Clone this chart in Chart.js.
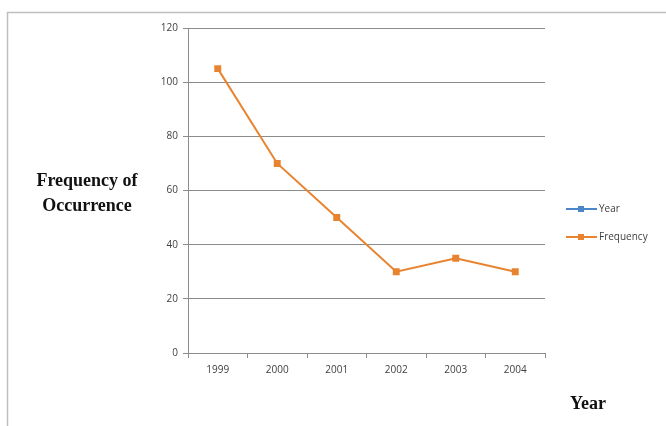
<!DOCTYPE html>
<html>
<head>
<meta charset="utf-8">
<script src="https://cdn.jsdelivr.net/npm/chart.js@4.4.0/dist/chart.umd.min.js"></script>
<style>
  html, body { margin: 0; padding: 0; background: #fff; }
  #wrap { width: 666px; height: 426px; position: relative; }
</style>
</head>
<body>
<div id="wrap"><canvas id="trendChart"></canvas></div>
<script>
const years = ['1999', '2000', '2001', '2002', '2003', '2004'];
const frequency = [105, 70, 50, 30, 35, 30];
const yearSeries = [null, null, null, null, null, null];
const yTicks = [0, 20, 40, 60, 80, 100, 120];

const ORANGE = '#E8832F';
const BLUE = '#4A86C8';

// frame, side titles and legend drawn around the plot
const decor = {
    id: 'decor',
    beforeDraw(chart) {
        const ctx = chart.ctx;
        ctx.save();
        ctx.strokeStyle = '#BFBFBF';
        ctx.lineWidth = 1.5;
        ctx.beginPath();
        ctx.moveTo(7.5, 426);
        ctx.lineTo(7.5, 12.5);
        ctx.lineTo(666, 12.5);
        ctx.stroke();
        ctx.restore();
    },
    afterDraw(chart) {
        const ctx = chart.ctx;
        ctx.save();
        ctx.fillStyle = '#111';
        ctx.font = 'bold 18px "Liberation Serif"';
        ctx.textAlign = 'center';
        ctx.textBaseline = 'middle';
        ctx.fillText('Frequency of', 87, 181);
        ctx.fillText('Occurrence', 87, 206);
        ctx.fillText('Year', 588, 404);

        // legend
        ctx.font = '10px "Open Sans"';
        ctx.textAlign = 'left';
        chart.data.datasets.forEach((ds, i) => {
            const y = 209 + i * 28;
            ctx.strokeStyle = ds.borderColor;
            ctx.lineWidth = 2;
            ctx.beginPath();
            ctx.moveTo(566, y);
            ctx.lineTo(597, y);
            ctx.stroke();
            ctx.fillStyle = ds.borderColor;
            ctx.fillRect(578, y - 3, 6, 6);
            ctx.fillStyle = '#404040';
            ctx.fillText(ds.label, 599, y);
        });
        ctx.restore();
    }
};

new Chart(document.getElementById('trendChart'), {
    type: 'line',
    data: {
        labels: years,
        datasets: [
            {
                label: 'Year',
                data: yearSeries,
                borderColor: BLUE,
                backgroundColor: BLUE,
                pointStyle: 'rect'
            },
            {
                label: 'Frequency',
                data: frequency,
                borderColor: ORANGE,
                backgroundColor: ORANGE,
                borderWidth: 2,
                pointStyle: 'rect',
                pointRadius: 3.5,
                tension: 0
            }
        ]
    },
    options: {
        responsive: true,
        maintainAspectRatio: false,
        animation: false,
        layout: { padding: { left: 140, right: 121, top: 28, bottom: 43 } },
        plugins: {
            legend: { display: false },
            tooltip: { enabled: false }
        },
        scales: {
            x: {
                offset: true,
                afterFit: s => { s.height = 30; },
                grid: {
                    offset: true,
                    drawOnChartArea: false,
                    tickLength: 5,
                    color: '#8C8C8C'
                },
                border: { color: '#8C8C8C' },
                ticks: {
                    color: '#404040',
                    font: { family: 'Open Sans', size: 10 },
                    padding: 6,
                    maxRotation: 0
                }
            },
            y: {
                min: 0,
                max: 120,
                afterFit: s => { s.width = 48; },
                afterBuildTicks: s => { s.ticks = yTicks.map(v => ({ value: v })); },
                grid: {
                    color: '#8C8C8C',
                    tickLength: 5
                },
                border: { color: '#8C8C8C' },
                ticks: {
                    color: '#404040',
                    font: { family: 'Open Sans', size: 10 },
                    padding: 5
                }
            }
        }
    },
    plugins: [decor]
});
</script>
</body>
</html>
